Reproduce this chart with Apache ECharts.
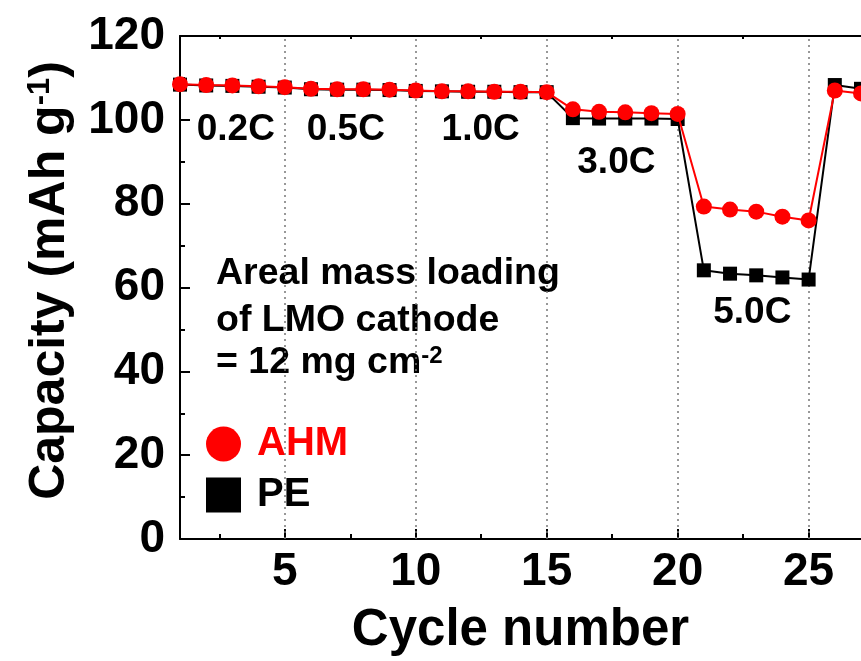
<!DOCTYPE html>
<html>
<head>
<meta charset="utf-8">
<script src="https://cdn.jsdelivr.net/npm/echarts@6/dist/echarts.min.js"></script>
<style>
html,body{margin:0;padding:0;background:#fff;}
#chart{width:861px;height:661px;}
</style>
</head>
<body>
<div id="chart"></div>
<script>
var FONT = '"Liberation Sans", Arial, Helvetica, sans-serif';
var cycles = [1,2,3,4,5,6,7,8,9,10,11,12,13,14,15,16,17,18,19,20,21,22,23,24,25,26,27];
var ahm = [108.5,108.3,108.2,108.0,107.8, 107.4,107.3,107.3,107.2,107.0, 106.8,106.8,106.7,106.7,106.6, 102.5,101.9,101.8,101.6,101.4, 79.3,78.6,78.1,76.9,76.0, 107.0,106.3];
var pe  = [108.4,108.2,108.1,107.9,107.7, 107.3,107.2,107.2,107.1,106.9, 106.8,106.7,106.7,106.6,106.6, 100.4,100.3,100.3,100.3,100.2, 64.1,63.3,62.9,62.4,61.9, 108.3,107.4];
var xMajorTicks = [5,10,15,20,25];
var xMinorTicks = [2.5,7.5,12.5,17.5,22.5];
var rateNames = ['0.2C','0.5C','1.0C','3.0C','5.0C'];
var rateX = [3.13,7.33,12.48,17.66,22.85];
var rateY = [97.6,97.6,97.6,89.8,53.9];
var noteLines = ['Areal mass loading','of LMO cathode'];

function pairs(xs, ys){ return xs.map(function(x,i){ return [x, ys[i]]; }); }

var chart = echarts.init(document.getElementById('chart'), null, {renderer:'canvas'});
var xBase = {type:'value', min:1, max:27, gridIndex:0, splitLine:{show:false}};
var option = {
  backgroundColor:'#fff',
  animation:false,
  textStyle:{fontFamily:FONT},
  grid:{left:180, top:36, bottom:120.5, right:-8, containLabel:false},
  legend:{
    orient:'vertical', left:201, top:419, itemWidth:35, itemHeight:35, itemGap:11,
    selectedMode:false,
    itemStyle:{borderWidth:0},
    textStyle:{fontFamily:FONT, fontSize:40, fontWeight:'bold', padding:[0,0,0,11]},
    data:[
      {name:'AHM', icon:'circle', textStyle:{color:'#ff0000'}},
      {name:'PE', icon:'rect', textStyle:{color:'#000000'}}
    ]
  },
  xAxis:[
    Object.assign({}, xBase, {
      position:'bottom',
      name:'Cycle number', nameLocation:'middle', nameGap:66,
      nameTextStyle:{fontFamily:FONT, fontSize:51, fontWeight:'bold', color:'#000'},
      axisLine:{show:true, lineStyle:{color:'#000', width:2}},
      axisTick:{show:true, inside:true, length:10, lineStyle:{color:'#000', width:2}, customValues:xMajorTicks},
      axisLabel:{show:true, customValues:xMajorTicks, fontFamily:FONT, fontSize:46, fontWeight:'bold', color:'#000', margin:10}
    }),
    Object.assign({}, xBase, {
      position:'bottom',
      axisLine:{show:false},
      axisTick:{show:true, inside:true, length:5, lineStyle:{color:'#000', width:2}, customValues:xMinorTicks},
      axisLabel:{show:false}
    }),
    Object.assign({}, xBase, {
      position:'top',
      axisLine:{show:true, lineStyle:{color:'#000', width:2}},
      axisTick:{show:true, inside:true, length:3, lineStyle:{color:'#000', width:2}, customValues:xMinorTicks},
      axisLabel:{show:false}
    })
  ],
  yAxis:[{
    type:'value', min:0, max:120, interval:20,
    name:'{a|Capacity (mAh g}{s|-1}{a|)}', nameLocation:'middle', nameGap:105,
    nameTextStyle:{
      color:'#000', padding:[0,0,0,14],
      rich:{
        a:{fontFamily:FONT, fontSize:50, fontWeight:'bold', color:'#000'},
        s:{fontFamily:FONT, fontSize:31, fontWeight:'bold', color:'#000', verticalAlign:'top'}
      }
    },
    axisLine:{show:true, lineStyle:{color:'#000', width:2}},
    axisTick:{show:true, inside:true, length:10, lineStyle:{color:'#000', width:2}},
    minorTick:{show:true, splitNumber:2, length:5, lineStyle:{color:'#000', width:2}},
    axisLabel:{fontFamily:FONT, fontSize:46, fontWeight:'bold', color:'#000', margin:15},
    splitLine:{show:false}, minorSplitLine:{show:false}
  }],
  graphic:[
    {type:'text', silent:true, style:{text:noteLines[0], x:216, y:274, fontFamily:FONT, fontSize:37.5, fontWeight:'bold', fill:'#000', verticalAlign:'middle', align:'left'}},
    {type:'text', silent:true, style:{text:noteLines[1], x:216, y:321, fontFamily:FONT, fontSize:37.5, fontWeight:'bold', fill:'#000', verticalAlign:'middle', align:'left'}},
    {type:'text', silent:true, style:{text:'{n|= 12 mg cm}{s|-2}', x:216, y:363, verticalAlign:'middle', align:'left',
      rich:{n:{fontFamily:FONT, fontSize:37.5, fontWeight:'bold', fill:'#000', color:'#000'}, s:{fontFamily:FONT, fontSize:24, fontWeight:'bold', fill:'#000', color:'#000', verticalAlign:'top'}}}}
  ],
  series:[
    {
      name:'grid', type:'line', data:[], silent:true, z:1,
      markLine:{silent:true, symbol:'none', z:1, label:{show:false},
        lineStyle:{color:'#777', width:1.5, type:[2,4]},
        data:xMajorTicks.map(function(v){ return {xAxis:v}; })}
    },
    {
      name:'PE', type:'line', data:pairs(cycles, pe), z:3,
      symbol:'rect', symbolSize:14, itemStyle:{color:'#000'}, lineStyle:{color:'#000', width:2}
    },
    {
      name:'AHM', type:'line', data:pairs(cycles, ahm), z:4,
      symbol:'circle', symbolSize:16, itemStyle:{color:'#ff0000'}, lineStyle:{color:'#ff0000', width:2}
    },
    {
      name:'rates', type:'scatter', data:rateNames.map(function(n,i){ return {name:n, value:[rateX[i], rateY[i]]}; }),
      symbolSize:0, itemStyle:{color:'rgba(0,0,0,0)', opacity:1}, silent:true, z:5,
      label:{show:true, position:'inside', formatter:'{b}', fontFamily:FONT, fontSize:37, fontWeight:'bold', color:'#000', opacity:1}
    }
  ]
};
chart.setOption(option);
</script>
</body>
</html>
